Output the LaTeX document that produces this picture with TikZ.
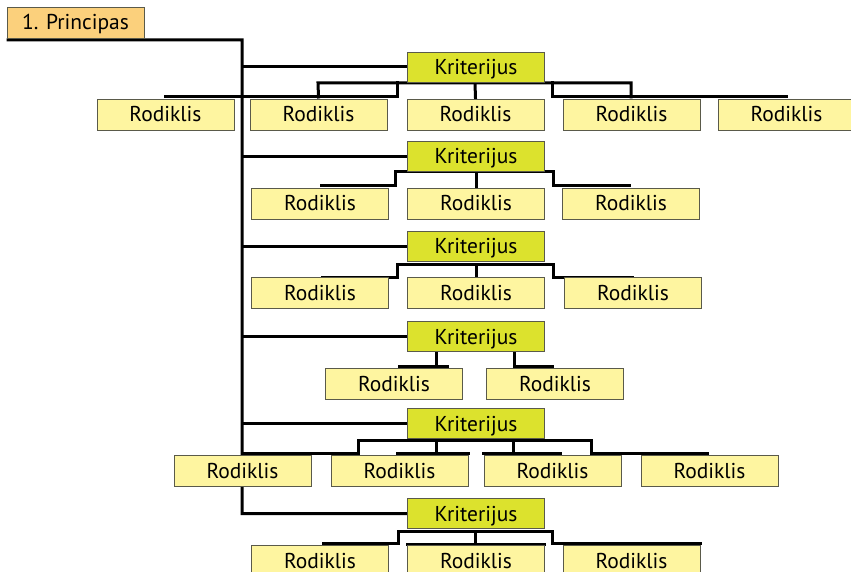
\documentclass[tikz,border=0pt]{standalone}
\usepackage{fontspec}
\setmainfont{PT Sans}
\usetikzlibrary{backgrounds}
\definecolor{pfill}{HTML}{FBD07C}
\definecolor{kfill}{HTML}{DCE22D}
\definecolor{rfill}{HTML}{FEF5A0}
\definecolor{edge}{HTML}{5A5A4A}
\tikzset{
  box/.style={draw=edge, line width=0.9pt, minimum width=137pt, minimum height=30pt,
    inner sep=0pt, text height=15pt, text depth=0pt,
    font=\fontsize{21.5}{25}\selectfont, text=black},
  pbox/.style={box, fill=pfill, minimum height=31pt},
  kbox/.style={box, fill=kfill},
  rbox/.style={box, fill=rfill, minimum height=31pt},
  link/.style={line width=3pt, line cap=rect, line join=miter}
}
\begin{document}
\begin{tikzpicture}[x=1pt,y=-1pt]
\useasboundingbox (0,0) rectangle (851,572);
\clip (0,0) rectangle (851,572);
% principle
\node[pbox] (p) at (75.5,22.5) {1. Principas};
% criteria
\node[kbox] (k1) at (476,67) {Kriterijus};
\node[kbox] (k2) at (476,156.5) {Kriterijus};
\node[kbox] (k3) at (476,246) {Kriterijus};
\node[kbox] (k4) at (476,336.5) {Kriterijus};
\node[kbox] (k5) at (476,423.5) {Kriterijus};
\node[kbox] (k6) at (476,513.5) {Kriterijus};
% row 1
\node[rbox] (r11) at (165.5,114.5) {Rodiklis};
\node[rbox] (r12) at (318.5,114.5) {Rodiklis};
\node[rbox] (r13) at (475.5,114.5) {Rodiklis};
\node[rbox] (r14) at (631.5,114.5) {Rodiklis};
\node[rbox] (r15) at (786.5,114.5) {Rodiklis};
% row 2
\node[rbox] (r21) at (320,203.5) {Rodiklis};
\node[rbox] (r22) at (476,203.5) {Rodiklis};
\node[rbox] (r23) at (631,203.5) {Rodiklis};
% row 3
\node[rbox] (r31) at (320,293) {Rodiklis};
\node[rbox] (r32) at (476,293) {Rodiklis};
\node[rbox] (r33) at (633,293) {Rodiklis};
% row 4
\node[rbox] (r41) at (394,383.5) {Rodiklis};
\node[rbox] (r42) at (555,383.5) {Rodiklis};
% row 5
\node[rbox] (r51) at (242.5,471) {Rodiklis};
\node[rbox] (r52) at (399.5,471) {Rodiklis};
\node[rbox] (r53) at (552.5,471) {Rodiklis};
\node[rbox] (r54) at (709.5,471) {Rodiklis};
% row 6
\node[rbox] (r61) at (320,560.5) {Rodiklis};
\node[rbox] (r62) at (476,560.5) {Rodiklis};
\node[rbox] (r63) at (631.5,560.5) {Rodiklis};

\begin{scope}[on background layer]
% trunk
\coordinate (t0) at (242,40);
\draw[link] ([xshift=1.5pt,yshift=-1.5pt]p.south west) -- (t0) -- (t0 |- k6.west) -- (k6.west);
\foreach \k in {k1,k2,k3,k4,k5}{
  \draw[link] (t0 |- \k.west) -- (\k.west);
}
% row 1
\draw[link] (r12.north |- 0,97) -- (318,83) -- (631,83) -- (631,97);
\draw[link] (r11.north |- 0,97) -- (397,97) -- (397,83);
\draw[link] (475,83) -- (r13.north);
\draw[link] (552,83) -- (552,97) -- (r15.north |- 0,97);
% row 2
\draw[link] (321,186) -- (395,186) -- (395,172) -- (553,172) -- (553,186) -- (629,186);
\draw[link] (476,172) -- (r22.north);
% row 3
\draw[link] (322,277) -- (397,277) -- (397,264) -- (553,264) -- (553,277) -- (632,277);
\draw[link] (476,264) -- (r32.north);
% row 4
\draw[link] (436,352) -- (436,366);
\draw[link] (399,366) -- (447,366);
\draw[link] (514,352) -- (514,366) -- (552,366);
% row 5
\draw[link] (242,453) -- (358,453) -- (358,440) -- (591,440) -- (591,453) -- (707,453);
\draw[link] (436,440) -- (436,453);
\draw[link] (397,453) -- (468,453);
\draw[link] (513,440) -- (513,453);
\draw[link] (483,453) -- (560,453);
% row 6
\draw[link] (323,543) -- (398,543) -- (398,531) -- (552,531) -- (552,543) -- (700,543);
\draw[link] (475,531) -- (475,543);
\draw[link] (r62.north west) -- (r62.north east);
\end{scope}
\end{tikzpicture}
\end{document}
